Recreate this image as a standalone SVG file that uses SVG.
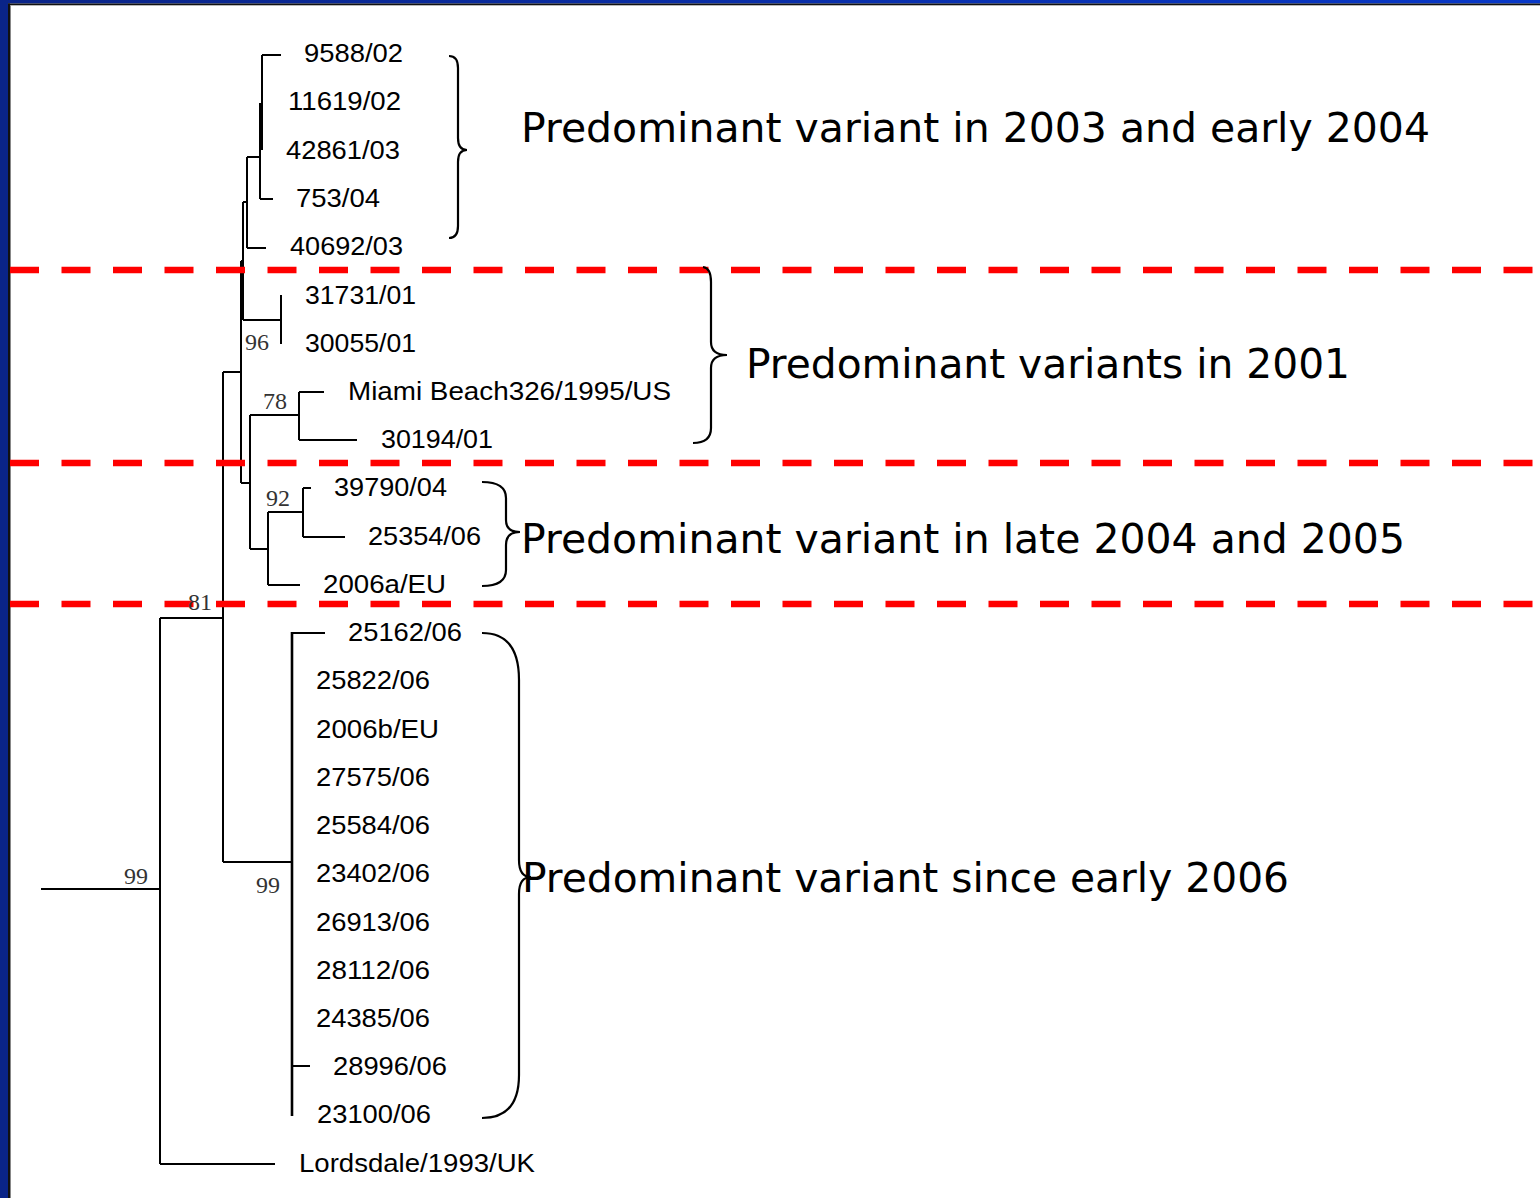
<svg xmlns="http://www.w3.org/2000/svg" width="1540" height="1198" viewBox="0 0 1540 1198">
<defs>
<linearGradient id="topg" x1="0" y1="0" x2="1" y2="0">
<stop offset="0" stop-color="#0a2488"/>
<stop offset="1" stop-color="#0838c8"/>
</linearGradient>
<style>
.t{fill:none;stroke:#000;stroke-width:2}
.br{fill:none;stroke:#000;stroke-width:2.2}
.dash{stroke:#ff0000;stroke-width:6.5;stroke-dasharray:29 22.5;fill:none}
.lf{font-family:"Liberation Sans",Arial,sans-serif;font-size:25px;fill:#000}
.bs{font-family:"Liberation Serif","Times New Roman",serif;font-size:24px;fill:#333}
.big{font-family:"DejaVu Sans",Verdana,sans-serif;font-size:41px;fill:#000}
</style>
</defs>
<rect width="1540" height="1198" fill="#fff"/>
<g id="border">
<rect x="0" y="0" width="1540" height="3.5" fill="url(#topg)"/>
<rect x="0" y="0" width="8" height="1198" fill="#0a2488"/>
<rect x="8" y="3.5" width="1532" height="1.8" fill="#111"/>
<rect x="8" y="3.5" width="2" height="1194.5" fill="#111"/>
<rect x="10" y="5.3" width="1" height="1192.7" fill="#888"/>
</g>
<g id="connectors">
<path class="t" d="M41,889 H160 M160,618 V1164 M160,1164 H275 M160,618 H223 M223,372 V862 M223,862 H292"/>
<path class="t" style="stroke-width:2.6" d="M292,632 V1116"/>
<path class="t" d="M292,633 H325 M292,1066 H310"/>
<path class="t" d="M223,372 H241 M241,261 V483 M241,261 H243 M243,202 V320 M243,320 H281 M281,295 V344"/>
<path class="t" d="M243,202 H247 M247,157 V248 M247,248 H266 M247,157 H260 M260,103 V199 M260,199 H273 M262,55 V150 M262,55 H281"/>
<path class="t" d="M241,483 H250 M250,415 V549 M250,415 H299 M299,392 V440 M299,392 H324 M299,440 H357"/>
<path class="t" d="M250,549 H268 M268,512 V585 M268,585 H300 M268,512 H303 M303,488 V537 M303,488 H311 M303,537 H345"/>
</g>
<g id="separators">
<path class="dash" d="M10,270 H1540"/>
<path class="dash" d="M10,463 H1540"/>
<path class="dash" d="M10,604 H1540"/>
</g>
<g id="bootstrap">
<text class="bs" x="124" y="884">99</text>
<text class="bs" x="256" y="893">99</text>
<text class="bs" x="188" y="610">81</text>
<text class="bs" x="245" y="350">96</text>
<text class="bs" x="263" y="409">78</text>
<text class="bs" x="266" y="506">92</text>
</g>
<g id="leaves">
<text class="lf" x="304" y="62" textLength="99" lengthAdjust="spacingAndGlyphs">9588/02</text>
<text class="lf" x="288" y="110" textLength="113" lengthAdjust="spacingAndGlyphs">11619/02</text>
<text class="lf" x="286" y="159" textLength="114" lengthAdjust="spacingAndGlyphs">42861/03</text>
<text class="lf" x="296" y="207" textLength="84" lengthAdjust="spacingAndGlyphs">753/04</text>
<text class="lf" x="290" y="255" textLength="113" lengthAdjust="spacingAndGlyphs">40692/03</text>
<text class="lf" x="305" y="304" textLength="111" lengthAdjust="spacingAndGlyphs">31731/01</text>
<text class="lf" x="305" y="352" textLength="111" lengthAdjust="spacingAndGlyphs">30055/01</text>
<text class="lf" x="348" y="400" textLength="323" lengthAdjust="spacingAndGlyphs">Miami Beach326/1995/US</text>
<text class="lf" x="381" y="448" textLength="112" lengthAdjust="spacingAndGlyphs">30194/01</text>
<text class="lf" x="334" y="496" textLength="113" lengthAdjust="spacingAndGlyphs">39790/04</text>
<text class="lf" x="368" y="545" textLength="113" lengthAdjust="spacingAndGlyphs">25354/06</text>
<text class="lf" x="323" y="593" textLength="123" lengthAdjust="spacingAndGlyphs">2006a/EU</text>
<text class="lf" x="348" y="641" textLength="114" lengthAdjust="spacingAndGlyphs">25162/06</text>
<text class="lf" x="316" y="689" textLength="114" lengthAdjust="spacingAndGlyphs">25822/06</text>
<text class="lf" x="316" y="738" textLength="123" lengthAdjust="spacingAndGlyphs">2006b/EU</text>
<text class="lf" x="316" y="786" textLength="114" lengthAdjust="spacingAndGlyphs">27575/06</text>
<text class="lf" x="316" y="834" textLength="114" lengthAdjust="spacingAndGlyphs">25584/06</text>
<text class="lf" x="316" y="882" textLength="114" lengthAdjust="spacingAndGlyphs">23402/06</text>
<text class="lf" x="316" y="931" textLength="114" lengthAdjust="spacingAndGlyphs">26913/06</text>
<text class="lf" x="316" y="979" textLength="114" lengthAdjust="spacingAndGlyphs">28112/06</text>
<text class="lf" x="316" y="1027" textLength="114" lengthAdjust="spacingAndGlyphs">24385/06</text>
<text class="lf" x="333" y="1075" textLength="114" lengthAdjust="spacingAndGlyphs">28996/06</text>
<text class="lf" x="317" y="1123" textLength="114" lengthAdjust="spacingAndGlyphs">23100/06</text>
<text class="lf" x="299" y="1172" textLength="236" lengthAdjust="spacingAndGlyphs">Lordsdale/1993/UK</text>
</g>
<g id="brace-2003">
<path class="br" d="M449,56 Q458,56 458,68 V138 Q458,150 467,150 Q458,150 458,162 V226 Q458,238 449,238"/>
<text class="big" x="521" y="142" textLength="909" lengthAdjust="spacingAndGlyphs">Predominant variant in 2003 and early 2004</text>
</g>
<g id="brace-2001">
<path class="br" d="M703,267 Q711,268 711,282 V342 Q711,355 727,355 Q711,355 711,368 V428 Q711,443 693,443"/>
<text class="big" x="746" y="378" textLength="604" lengthAdjust="spacingAndGlyphs">Predominant variants in 2001</text>
</g>
<g id="brace-2004">
<path class="br" d="M482,482 Q506,482 506,498 V520 Q506,532 520,532 Q506,532 506,545 V570 Q506,586 482,586"/>
<text class="big" x="521" y="553" textLength="884" lengthAdjust="spacingAndGlyphs">Predominant variant in late 2004 and 2005</text>
</g>
<g id="brace-2006">
<path class="br" d="M482,633 Q519,633 519,680 V860 Q519,877 531,877 Q519,877 519,894 V1075 Q519,1118 482,1118"/>
<text class="big" x="522" y="892" textLength="767" lengthAdjust="spacingAndGlyphs">Predominant variant since early 2006</text>
</g>
</svg>
